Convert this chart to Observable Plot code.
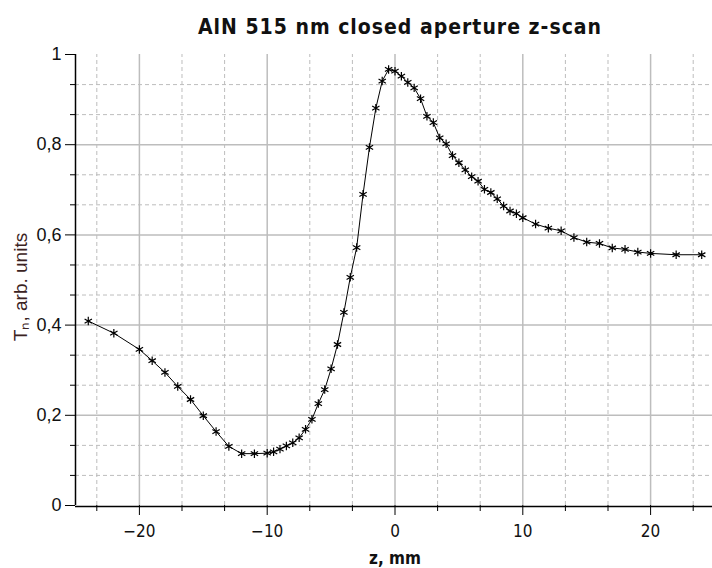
<!DOCTYPE html>
<html><head><meta charset="utf-8">
<script src="https://cdn.jsdelivr.net/npm/d3@7"></script>
<script src="https://cdn.jsdelivr.net/npm/@observablehq/plot@0.6"></script>
<style>
body{margin:0;background:#fff;}
#title{width:712px;height:40px;box-sizing:border-box;padding-left:88px;padding-top:17px;text-align:center;font-family:"DejaVu Sans Condensed","DejaVu Sans",sans-serif;font-weight:bold;font-size:21px;letter-spacing:1px;line-height:20px;color:#111;}
#chart svg{overflow:visible;}
</style></head><body>
<div id="title">AlN 515 nm closed aperture z-scan</div>
<div id="chart"></div>
<script>
const z = [-24,-22,-20,-19,-18,-17,-16,-15,-14,-13,-12,-11,-10,-9.5,-9,-8.5,-8,-7.5,-7,-6.5,-6,-5.5,-5,-4.5,-4,-3.5,-3,-2.5,-2,-1.5,-1,-0.5,0,0.5,1,1.5,2,2.5,3,3.5,4,4.5,5,5.5,6,6.5,7,7.5,8,8.5,9,9.5,10,11,12,13,14,15,16,17,18,19,20,22,24];
const T = [0.409,0.382,0.346,0.321,0.295,0.264,0.235,0.199,0.164,0.131,0.115,0.115,0.116,0.119,0.125,0.132,0.139,0.150,0.169,0.191,0.226,0.257,0.303,0.357,0.428,0.506,0.572,0.690,0.794,0.881,0.941,0.967,0.963,0.952,0.938,0.926,0.902,0.863,0.849,0.815,0.802,0.776,0.760,0.744,0.729,0.719,0.701,0.694,0.680,0.664,0.653,0.647,0.638,0.624,0.615,0.609,0.594,0.584,0.581,0.571,0.568,0.562,0.559,0.556,0.556];
const xMajor = [-20,-10,0,10,20];
const xMinor = [-23.333,-16.667,-13.333,-6.667,-3.333,3.333,6.667,13.333,16.667,23.333];
const yMajor = [0,0.2,0.4,0.6,0.8,1];
const yLabels = ["0","0,2","0,4","0,6","0,8","1"];
const yMinor = [0.0667,0.1333,0.2667,0.3333,0.4667,0.5333,0.6667,0.7333,0.8667,0.9333];
const xTitle = "z, mm";
const yTitle = "Tₙ, arb. units";

const data = z.map((v,i)=>({z:v,T:T[i]}));
const condensed = '"DejaVu Sans Condensed","DejaVu Sans",sans-serif';
const arial = '"Liberation Sans",Arial,sans-serif';
const grid = "#bdbdbd";

const plot = Plot.plot({
  width:712, height:528,
  marginLeft:75, marginRight:-2, marginTop:14, marginBottom:63,
  x:{domain:[-25,25]},
  y:{domain:[0,1]},
  style:{fontFamily:condensed, fontSize:"17px", color:"#111", background:"#fff"},
  marks:[
    Plot.ruleX(xMinor,{y1:0,y2:1,stroke:grid,strokeDasharray:"4,3"}),
    Plot.ruleY(yMinor,{x1:-25,x2:25,stroke:grid,strokeDasharray:"4,3"}),
    Plot.ruleX(xMajor,{y1:0,y2:1,stroke:grid,strokeWidth:1.5}),
    Plot.ruleY(yMajor.filter(v=>v>0&&v<1),{x1:-25,x2:25,stroke:grid,strokeWidth:1.5}),
    Plot.axisX(xMinor,{tickSize:6,tickFormat:()=>"",label:null,stroke:"#000"}),
    Plot.axisX(xMajor,{tickSize:10,tickPadding:9,label:null,stroke:"#000",fontFamily:condensed,fontSize:17}),
    Plot.axisY(yMinor,{tickSize:5,tickFormat:()=>"",label:null,stroke:"#000"}),
    Plot.axisY(yMajor,{tickSize:10,tickPadding:4,label:null,stroke:"#000",fontFamily:arial,fontSize:18,tickFormat:d=>yLabels[yMajor.indexOf(d)]}),
    Plot.ruleX([-25],{y1:0,y2:1,stroke:"#000",strokeWidth:1.5}),
    Plot.ruleY([0],{x1:-25,x2:25,dy:1,stroke:"#000",strokeWidth:1.5}),
    Plot.line(data,{x:"z",y:"T",stroke:"#000",strokeWidth:1}),
    Plot.dot(data,{x:"z",y:"T",symbol:"asterisk",r:4,stroke:"#000",strokeWidth:1.2}),
    Plot.text([xTitle],{frameAnchor:"bottom",dy:58,fontWeight:"bold",fontSize:17,fontFamily:condensed,fill:"#111"}),
    Plot.text([yTitle],{frameAnchor:"left",textAnchor:"middle",dx:-55,dy:7,rotate:-90,fontSize:19,fontFamily:arial,fill:"#3a2222"})
  ]
});
document.getElementById("chart").appendChild(plot);
</script>
</body></html>
